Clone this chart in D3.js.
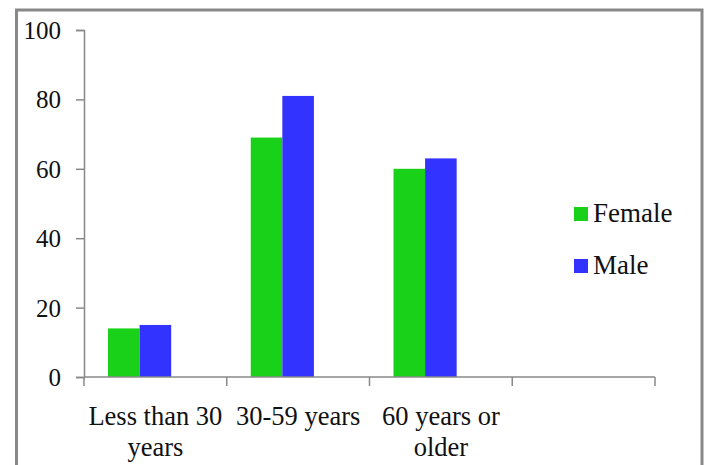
<!DOCTYPE html>
<html>
<head>
<meta charset="utf-8">
<script src="https://cdn.jsdelivr.net/npm/d3@7/dist/d3.min.js"></script>
<style>
html,body{margin:0;padding:0;background:#fff;}
svg{display:block;}
</style>
</head>
<body>
<script>
const categories = [["Less than 30", "years"], ["30-59 years"], ["60 years or", "older"], [""]];
const seriesNames = ["Female", "Male"];
const female = [14, 69, 60, null];
const male = [15, 81, 63, null];
const yTicks = [0, 20, 40, 60, 80, 100];
const colors = ["#19d119", "#3333ff"];

const W = 706, H = 465;
const FONT = "'Times New Roman', Times, 'Liberation Serif', Tinos, 'Nimbus Roman', 'Noto Serif', 'DejaVu Serif', serif";
const svg = d3.select("body").append("svg").attr("width", W).attr("height", H)
  .attr("font-family", FONT);

// frame
svg.append("rect").attr("x", 16.5).attr("y", 10).attr("width", 685.5).attr("height", 520)
  .attr("fill", "none").attr("stroke", "#888").attr("stroke-width", 3);

const catKeys = categories.map((c, i) => "c" + i);
const x = d3.scaleBand().domain(catKeys).range([84, 655]).padding(0);
const inner = d3.scaleBand().domain([...seriesNames, "_"]).range([24, x.bandwidth() - 24]).padding(0);
const y = d3.scaleLinear().domain([0, 100]).range([377, 30]);

const axisColor = "#888";

// y axis
const yAxis = svg.append("g").attr("transform", "translate(84,0)")
  .call(d3.axisLeft(y).tickValues(yTicks).tickSize(8).tickPadding(15));
yAxis.attr("font-family", FONT);
yAxis.select(".domain").attr("stroke", axisColor).attr("stroke-width", 1.5);
yAxis.selectAll(".tick line").attr("stroke", axisColor).attr("stroke-width", 1.5);
yAxis.selectAll(".tick text").attr("font-size", 25).attr("fill", "#111")
  .attr("font-family", FONT).attr("dy", "0.34em");

// bars
const data = [female, male];
data.forEach((vals, si) => {
  svg.append("g").selectAll("rect")
    .data(vals.map((v, i) => ({v, k: catKeys[i]})).filter(d => d.v != null))
    .join("rect")
    .attr("x", d => x(d.k) + inner(seriesNames[si]))
    .attr("y", d => y(d.v))
    .attr("width", inner.bandwidth())
    .attr("height", d => y(0) - y(d.v))
    .attr("fill", colors[si]);
});

// x axis
const xg = svg.append("g");
xg.append("line").attr("x1", 84).attr("x2", 655).attr("y1", y(0)).attr("y2", y(0))
  .attr("stroke", axisColor).attr("stroke-width", 1.5);
const boundaries = catKeys.map(k => x(k)).concat([x.range()[1]]);
xg.selectAll("line.tk").data(boundaries).join("line").attr("class", "tk")
  .attr("x1", d => d).attr("x2", d => d).attr("y1", y(0)).attr("y2", y(0) + 9)
  .attr("stroke", axisColor).attr("stroke-width", 1.5);

// category labels
categories.forEach((lines, i) => {
  const cx = x(catKeys[i]) + x.bandwidth() / 2;
  lines.forEach((t, li) => {
    svg.append("text").attr("x", cx).attr("y", 425 + li * 31)
      .attr("text-anchor", "middle").attr("font-family", FONT).attr("font-size", 26.5)
      .attr("fill", "#111").text(t);
  });
});

// legend
seriesNames.forEach((n, i) => {
  const g = svg.append("g").attr("transform", `translate(574,${207 + i * 52})`);
  g.append("rect").attr("width", 14).attr("height", 14).attr("fill", colors[i]);
  g.append("text").attr("x", 19).attr("y", 15).attr("font-family", FONT).attr("font-size", 27)
    .attr("fill", "#111").text(n);
});
</script>
</body>
</html>
